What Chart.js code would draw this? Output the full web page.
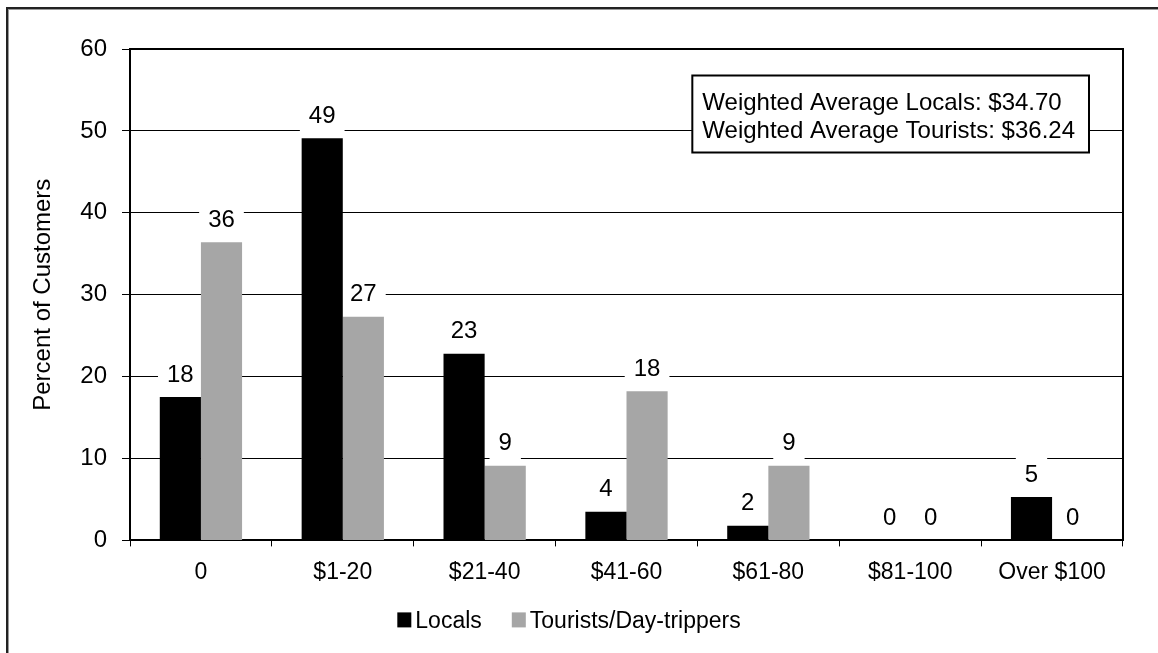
<!DOCTYPE html>
<html><head><meta charset="utf-8">
<script src="https://cdn.jsdelivr.net/npm/chart.js@4.4.1/dist/chart.umd.min.js"></script>
<style>
html,body{margin:0;padding:0;background:#fff;overflow:hidden}
#wrap{position:relative;width:1158px;height:653px;background:#fff}
#frame{position:absolute;left:6px;top:7px;width:1300px;height:800px;border-left:2px solid #222;border-top:2px solid #222;box-shadow:inset 1px 1px 0 #999;pointer-events:none}
</style></head><body>
<div id="wrap"><canvas id="c" width="1158" height="653"></canvas><div id="frame"></div></div>
<script>
const categories = ['0', '$1-20', '$21-40', '$41-60', '$61-80', '$81-100', 'Over $100'];
const locals = [17.5, 49.1, 22.8, 3.5, 1.8, 0, 5.3];
const tourists = [36.4, 27.3, 9.1, 18.2, 9.1, 0, 0];
const seriesNames = ['Locals', 'Tourists/Day-trippers'];
const seriesColors = ['#000000', '#a6a6a6'];
const yTicks = [0, 10, 20, 30, 40, 50, 60];
const yTitle = 'Percent of Customers';
const annotationLines = ['Weighted Average Locals: $34.70', 'Weighted Average Tourists: $36.24'];

const FONT = '"Liberation Sans", Arial, sans-serif';

const framePlugin = {
  id: 'plotFrame',
  beforeDatasetsDraw(chart) {
    const {ctx, chartArea: a} = chart;
    ctx.save();
    ctx.strokeStyle = '#000';
    ctx.lineWidth = 2;
    ctx.beginPath();
    ctx.moveTo(a.left, a.top);
    ctx.lineTo(a.right, a.top);
    ctx.lineTo(a.right, a.bottom);
    ctx.stroke();
    ctx.restore();
  }
};

const labelPlugin = {
  id: 'barLabels',
  beforeDatasetsDraw(chart) {
    const ctx = chart.ctx;
    ctx.save();
    ctx.font = '24px ' + FONT;
    ctx.textAlign = 'center';
    ctx.textBaseline = 'middle';
    chart.data.datasets.forEach((ds, di) => {
      const meta = chart.getDatasetMeta(di);
      meta.data.forEach((el, i) => {
        const txt = String(Math.round(ds.data[i]));
        const cx = el.x, cy = el.y - 23;
        const w = ctx.measureText(txt).width + 18;
        ctx.fillStyle = '#fff';
        ctx.fillRect(cx - w / 2, cy - 17, w, 34);
        ctx.fillStyle = '#000';
        ctx.fillText(txt, cx, cy + 1);
      });
    });
    ctx.restore();
  }
};

const boxPlugin = {
  id: 'avgBox',
  afterDatasetsDraw(chart) {
    const {ctx, chartArea: a} = chart;
    ctx.save();
    ctx.font = '24px ' + FONT;
    const tw = Math.max(...annotationLines.map(t => ctx.measureText(t).width));
    const w = tw + 24, h = 77;
    const right = a.right - 34, top = a.top + 26.5;
    const left = right - w;
    ctx.fillStyle = '#fff';
    ctx.fillRect(left, top, w, h);
    ctx.lineWidth = 2;
    ctx.strokeStyle = '#000';
    ctx.strokeRect(left, top, w, h);
    ctx.fillStyle = '#000';
    ctx.textAlign = 'left';
    ctx.textBaseline = 'alphabetic';
    annotationLines.forEach((t, i) => ctx.fillText(t, left + 10, top + 34.5 + i * 28));
    ctx.restore();
  }
};

const legendPlugin = {
  id: 'customLegend',
  afterDraw(chart) {
    const ctx = chart.ctx;
    ctx.save();
    ctx.font = '23px ' + FONT;
    ctx.textAlign = 'left';
    ctx.textBaseline = 'alphabetic';
    const items = chart.data.datasets.map(ds => ({text: ds.label, color: ds.backgroundColor, w: ctx.measureText(ds.label).width}));
    const box = 14, gap = 4, between = 30;
    const total = items.reduce((s, it) => s + box + gap + it.w, 0) + between * (items.length - 1);
    let x = chart.width / 2 - 10 - total / 2;
    const baseline = chart.chartArea.bottom + 88;
    items.forEach(it => {
      ctx.fillStyle = it.color;
      ctx.fillRect(x, baseline - 16, box, 15);
      ctx.fillStyle = '#000';
      ctx.fillText(it.text, x + box + gap, baseline);
      x += box + gap + it.w + between;
    });
    ctx.restore();
  }
};

new Chart(document.getElementById('c'), {
  type: 'bar',
  data: {
    labels: categories,
    datasets: [
      {label: seriesNames[0], data: locals, backgroundColor: seriesColors[0], borderWidth: 0, barPercentage: 1, categoryPercentage: 0.58},
      {label: seriesNames[1], data: tourists, backgroundColor: seriesColors[1], borderWidth: 0, barPercentage: 1, categoryPercentage: 0.58}
    ]
  },
  options: {
    responsive: false,
    animation: false,
    devicePixelRatio: 1,
    layout: {padding: {left: 10, top: 49, right: 35, bottom: 55}},
    plugins: {
      tooltip: {enabled: false},
      legend: {display: false}
    },
    scales: {
      x: {
        grid: {display: true, drawOnChartArea: false, drawTicks: true, tickLength: 6, color: '#000', offset: true},
        border: {display: true, color: '#000', width: 2},
        ticks: {color: '#000', padding: 12, font: {family: FONT, size: 23}, maxRotation: 0}
      },
      y: {
        min: 0, max: 60,
        afterBuildTicks: (s) => { s.ticks = yTicks.map(v => ({value: v})); },
        afterFit: (s) => { s.width = 120; },
        grid: {color: '#000', lineWidth: 1, tickLength: 8, drawTicks: true},
        border: {display: true, color: '#000', width: 2},
        ticks: {color: '#000', padding: 15, font: {family: FONT, size: 24}},
        title: {display: true, text: yTitle, color: '#000', font: {family: FONT, size: 24}, padding: {top: 19, bottom: 0}}
      }
    }
  },
  plugins: [framePlugin, labelPlugin, boxPlugin, legendPlugin]
});
</script>
</body></html>
